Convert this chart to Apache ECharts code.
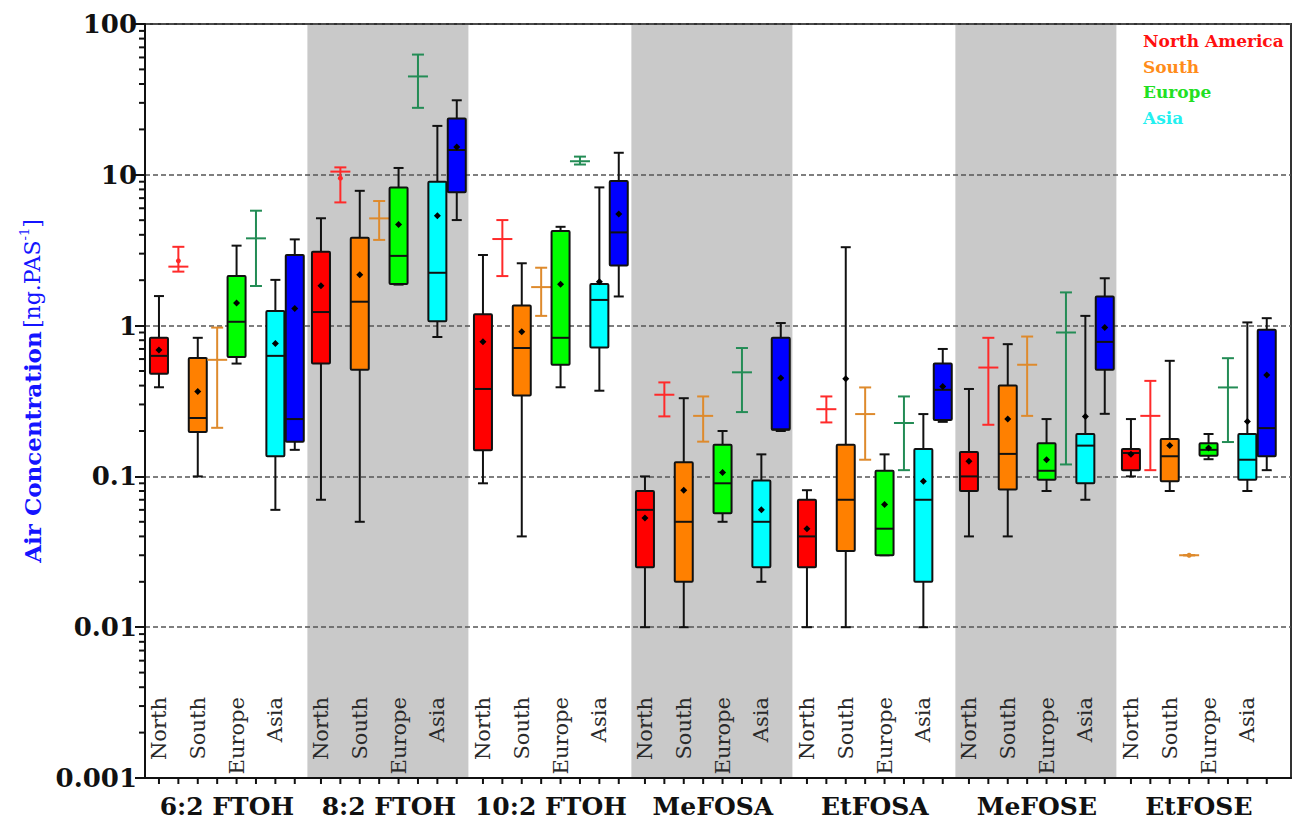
<!DOCTYPE html>
<html><head><meta charset="utf-8">
<script src="https://cdn.jsdelivr.net/npm/echarts@6/dist/echarts.min.js"></script>
<style>html,body{margin:0;padding:0;background:#fff}#c{width:1293px;height:824px}</style>
</head><body><div id="c"></div>
<script>
// ---------------- DATA ----------------
const categories = ['6:2 FTOH', '8:2 FTOH', '10:2 FTOH', 'MeFOSA', 'EtFOSA', 'MeFOSE', 'EtFOSE'];
const regionLabels = ['North', 'South', 'Europe', 'Asia'];
const legendNames = ['North America', 'South', 'Europe', 'Asia'];
const yTickLabels = ['0.001', '0.01', '0.1', '1', '10', '100'];
const shadedGroups = [1, 3, 5];

// box values per compound: [whiskerLow, q1, median, q3, whiskerHigh, mean]
const northBox = [
  [0.39, 0.48, 0.63, 0.83, 1.57, 0.69],
  [0.07, 0.56, 1.23, 3.09, 5.15, 1.84],
  [0.09, 0.149, 0.38, 1.19, 2.94, 0.78],
  [0.01, 0.025, 0.06, 0.08, 0.1, 0.053],
  [0.01, 0.025, 0.04, 0.07, 0.081, 0.045],
  [0.04, 0.08, 0.1, 0.145, 0.38, 0.126],
  [0.1, 0.11, 0.143, 0.152, 0.24, 0.14]
];
const southBox = [
  [0.1, 0.197, 0.244, 0.61, 0.83, 0.366],
  [0.05, 0.51, 1.44, 3.83, 7.83, 2.17],
  [0.04, 0.344, 0.71, 1.36, 2.59, 0.91],
  [0.01, 0.02, 0.05, 0.124, 0.33, 0.081],
  [0.01, 0.032, 0.07, 0.162, 3.31, 0.444],
  [0.04, 0.082, 0.141, 0.40, 0.753, 0.24],
  [0.08, 0.093, 0.136, 0.177, 0.584, 0.16]
];
const europeBox = [
  [0.56, 0.62, 1.06, 2.13, 3.39, 1.41],
  [1.87, 1.89, 2.9, 8.25, 11.1, 4.69],
  [0.39, 0.55, 0.83, 4.24, 4.52, 1.88],
  [0.05, 0.057, 0.09, 0.162, 0.2, 0.106],
  [0.03, 0.03, 0.045, 0.109, 0.14, 0.065],
  [0.08, 0.095, 0.109, 0.166, 0.24, 0.129],
  [0.13, 0.137, 0.15, 0.166, 0.191, 0.154]
];
const asiaBox = [
  [0.06, 0.136, 0.63, 1.25, 2.01, 0.76],
  [0.84, 1.07, 2.24, 8.99, 21.1, 5.35],
  [0.37, 0.715, 1.48, 1.89, 8.25, 1.95],
  [0.02, 0.025, 0.05, 0.094, 0.14, 0.06],
  [0.01, 0.02, 0.07, 0.152, 0.259, 0.093],
  [0.07, 0.09, 0.16, 0.191, 1.16, 0.25],
  [0.08, 0.095, 0.129, 0.191, 1.05, 0.231]
];
const blueBox = [
  [0.15, 0.17, 0.24, 2.94, 3.73, 1.30],
  [5.01, 7.65, 14.6, 23.6, 31.2, 15.3],
  [1.56, 2.5, 4.15, 9.08, 14, 5.5],
  [0.2, 0.204, 0.205, 0.83, 1.04, 0.45],
  [0.23, 0.237, 0.375, 0.56, 0.70, 0.394],
  [0.26, 0.51, 0.78, 1.56, 2.06, 0.97],
  [0.11, 0.136, 0.209, 0.94, 1.12, 0.47]
];
// range markers: [low, mid, high, dot (or null)]
const northRange = [
  [2.28, 2.46, 3.33, 2.69],
  [6.56, 10.5, 11.2, 9.5],
  [2.13, 3.75, 5.01, null],
  [0.25, 0.348, 0.42, null],
  [0.228, 0.279, 0.339, null],
  [0.22, 0.527, 0.83, null],
  [0.11, 0.252, 0.43, null]
];
const southRange = [
  [0.21, 0.593, 0.97, null],
  [3.7, 5.14, 6.7, null],
  [1.16, 1.8, 2.42, null],
  [0.17, 0.252, 0.339, null],
  [0.129, 0.259, 0.389, null],
  [0.252, 0.55, 0.846, null],
  [0.03, 0.03, 0.03, 0.03]
];
const europeRange = [
  [1.83, 3.79, 5.78, null],
  [27.8, 44.9, 62.7, null],
  [11.7, 12.3, 13.2, null],
  [0.267, 0.49, 0.71, null],
  [0.11, 0.226, 0.339, null],
  [0.12, 0.9, 1.66, null],
  [0.169, 0.389, 0.608, null]
];

// ---------------- LAYOUT ----------------
const PERIOD = 8.35;           // slot units per compound group
const XMIN = -0.72, XMAX = 58.35;
const YMIN = 0.001, YMAX = 100;
const FONT = 'DejaVu Serif';
const slotX = (g, s) => g * PERIOD + s;

const toBoxData = (arr, slot) => arr.map((d, g) => [slotX(g, slot)].concat(d));
const toRangeData = (arr, slot) => arr.map((d, g) => [slotX(g, slot), d[0], d[1], d[2], d[3] == null ? d[1] : d[3], d[3] == null ? 0 : 1]);

function boxRenderer(fill) {
  return function (params, api) {
    const x = api.value(0);
    const c = v => api.coord([x, v]);
    const low = c(api.value(1)), q1 = c(api.value(2)), med = c(api.value(3)),
          q3 = c(api.value(4)), high = c(api.value(5)), mean = c(api.value(6));
    const cx = low[0], hw = 9, cw = 5, ms = 3.5;
    const ls = { stroke: '#111', lineWidth: 2 };
    return {
      type: 'group',
      children: [
        { type: 'line', shape: { x1: cx, y1: high[1], x2: cx, y2: q3[1] }, style: ls },
        { type: 'line', shape: { x1: cx, y1: q1[1], x2: cx, y2: low[1] }, style: ls },
        { type: 'line', shape: { x1: cx - cw, y1: high[1], x2: cx + cw, y2: high[1] }, style: ls },
        { type: 'line', shape: { x1: cx - cw, y1: low[1], x2: cx + cw, y2: low[1] }, style: ls },
        { type: 'rect', shape: { x: cx - hw, y: q3[1], width: 2 * hw, height: q1[1] - q3[1], r: 1 }, style: { fill: fill, stroke: '#111', lineWidth: 2 } },
        { type: 'line', shape: { x1: cx - hw, y1: med[1], x2: cx + hw, y2: med[1] }, style: ls },
        { type: 'polygon', shape: { points: [[cx, mean[1] - ms], [cx + ms, mean[1]], [cx, mean[1] + ms], [cx - ms, mean[1]]] }, style: { fill: '#000' } }
      ]
    };
  };
}

function rangeRenderer(color) {
  return function (params, api) {
    const x = api.value(0);
    const c = v => api.coord([x, v]);
    const low = c(api.value(1)), mid = c(api.value(2)), high = c(api.value(3)), dot = c(api.value(4));
    const showDot = api.value(5) === 1;
    const cx = low[0], capw = 6, crossw = 10;
    const ls = { stroke: color, lineWidth: 2 };
    const ch = [
      { type: 'line', shape: { x1: cx, y1: high[1], x2: cx, y2: low[1] }, style: ls },
      { type: 'line', shape: { x1: cx - capw, y1: high[1], x2: cx + capw, y2: high[1] }, style: ls },
      { type: 'line', shape: { x1: cx - capw, y1: low[1], x2: cx + capw, y2: low[1] }, style: ls },
      { type: 'line', shape: { x1: cx - crossw, y1: mid[1], x2: cx + crossw, y2: mid[1] }, style: ls }
    ];
    if (showDot) ch.push({ type: 'circle', shape: { cx: cx, cy: dot[1], r: 2.5 }, style: { fill: color } });
    return { type: 'group', children: ch };
  };
}

const tickData = [];
categories.forEach((_, g) => { for (let s = 0; s < 8; s++) tickData.push([slotX(g, s), YMIN]); });
const minorData = [];
for (let e = -3; e < 2; e++) for (let m = 2; m <= 9; m++) minorData.push([XMIN, m * Math.pow(10, e)]);
const groupLabelData = categories.map((_, g) => [slotX(g, 3.5), YMIN]);
const regionLabelData = [];
categories.forEach((_, g) => regionLabels.forEach((_, r) => regionLabelData.push([slotX(g, 2 * r), YMIN, r])));

const legendColors = ['#ff1010', '#ff8c1a', '#22e022', '#22f0f0'];

const option = {
  animation: false,
  backgroundColor: '#fff',
  grid: { left: 145, right: 2, top: 24, bottom: 46, show: true, borderColor: '#333', borderWidth: 2, backgroundColor: 'transparent' },
  xAxis: {
    type: 'value', min: XMIN, max: XMAX,
    axisLine: { show: true, onZero: false, lineStyle: { color: '#111', width: 2 } },
    axisTick: { show: false }, axisLabel: { show: false }, splitLine: { show: false }
  },
  yAxis: {
    type: 'log', logBase: 10, min: YMIN, max: YMAX, splitNumber: 5,
    axisLine: { show: true, onZero: false, lineStyle: { color: '#111', width: 2 } },
    axisTick: { show: true, length: 10, lineStyle: { color: '#111', width: 2 } },
    axisLabel: {
      margin: 8, fontFamily: FONT, fontWeight: 'bold', fontSize: 26, color: '#111',
      formatter: v => yTickLabels[Math.round(Math.log10(v)) + 3]
    },
    splitLine: { show: true, lineStyle: { color: '#555', width: 1.5, type: [5, 3] } }
  },
  graphic: [
    {
      type: 'text', x: 32, y: 391, rotation: Math.PI / 2,
      style: {
        text: '{b|Air Concentration} {n|[ng.PAS}{s|-1}{n|]}',
        align: 'center', verticalAlign: 'middle', fill: '#1414ff',
        rich: {
          b: { fontFamily: FONT, fontWeight: 'bold', fontSize: 23, fill: '#1414ff', lineHeight: 28 },
          n: { fontFamily: FONT, fontSize: 22, fill: '#1414ff', lineHeight: 28 },
          s: { fontFamily: FONT, fontSize: 13, fill: '#1414ff', verticalAlign: 'top', lineHeight: 28 }
        }
      }
    }
  ].concat(legendNames.map((n, i) => ({
    type: 'text', x: 1143, y: 41 + i * 25.5,
    style: { text: n, fill: legendColors[i], fontFamily: FONT, fontWeight: 'bold', fontSize: 17, verticalAlign: 'middle', align: 'left' }
  }))),
  series: [
    {
      type: 'custom', name: 'bands', z: -1, silent: true,
      data: shadedGroups.map(g => [g]),
      encode: { x: 0 },
      renderItem: (params, api) => {
        const g = api.value(0);
        const p0 = api.coord([g * PERIOD - 0.7, YMAX]);
        const p1 = api.coord([g * PERIOD + 7.6, YMIN]);
        return { type: 'rect', shape: { x: p0[0], y: p0[1], width: p1[0] - p0[0], height: p1[1] - p0[1] }, style: { fill: '#c9c9c9' } };
      }
    },
    { type: 'custom', name: 'North America', data: toBoxData(northBox, 0), encode: { x: 0, y: [1, 5] }, renderItem: boxRenderer('#ff0000') },
    { type: 'custom', name: 'North America range', data: toRangeData(northRange, 1), encode: { x: 0, y: [1, 3] }, renderItem: rangeRenderer('#ff2a2a') },
    { type: 'custom', name: 'South', data: toBoxData(southBox, 2), encode: { x: 0, y: [1, 5] }, renderItem: boxRenderer('#ff8000') },
    { type: 'custom', name: 'South range', data: toRangeData(southRange, 3), encode: { x: 0, y: [1, 3] }, renderItem: rangeRenderer('#de8a2c') },
    { type: 'custom', name: 'Europe', data: toBoxData(europeBox, 4), encode: { x: 0, y: [1, 5] }, renderItem: boxRenderer('#00ff00') },
    { type: 'custom', name: 'Europe range', data: toRangeData(europeRange, 5), encode: { x: 0, y: [1, 3] }, renderItem: rangeRenderer('#238c55') },
    { type: 'custom', name: 'Asia', data: toBoxData(asiaBox, 6), encode: { x: 0, y: [1, 5] }, renderItem: boxRenderer('#00ffff') },
    { type: 'custom', name: 'Asia (blue)', data: toBoxData(blueBox, 7), encode: { x: 0, y: [1, 5] }, renderItem: boxRenderer('#0000ff') },
    {
      type: 'custom', name: 'xticks', silent: true, clip: false, data: tickData, encode: { x: 0, y: 1 },
      renderItem: (params, api) => {
        const p = api.coord([api.value(0), api.value(1)]);
        return { type: 'line', shape: { x1: p[0], y1: p[1], x2: p[0], y2: p[1] + 6 }, style: { stroke: '#111', lineWidth: 2 } };
      }
    },
    {
      type: 'custom', name: 'yminor', silent: true, clip: false, data: minorData, encode: { x: 0, y: 1 },
      renderItem: (params, api) => {
        const p = api.coord([api.value(0), api.value(1)]);
        return { type: 'line', shape: { x1: p[0] - 6, y1: p[1], x2: p[0], y2: p[1] }, style: { stroke: '#111', lineWidth: 2 } };
      }
    },
    {
      type: 'custom', name: 'groupLabels', silent: true, clip: false, data: groupLabelData, encode: { x: 0, y: 1 },
      renderItem: (params, api) => {
        const p = api.coord([api.value(0), api.value(1)]);
        return { type: 'text', x: p[0], y: p[1] + 28, style: { text: categories[params.dataIndex], fontFamily: FONT, fontWeight: 'bold', fontSize: 25, fill: '#111', align: 'center', verticalAlign: 'middle' } };
      }
    },
    {
      type: 'custom', name: 'regionLabels', silent: true, clip: false, data: regionLabelData, encode: { x: 0, y: 1 },
      renderItem: (params, api) => {
        const p = api.coord([api.value(0), api.value(1)]);
        return { type: 'text', x: p[0], y: p[1] - 81, rotation: Math.PI / 2, style: { text: regionLabels[api.value(2)], fontFamily: FONT, fontSize: 21, fill: '#2a2a2a', align: 'right', verticalAlign: 'middle' } };
      }
    }
  ]
};
const chart = echarts.init(document.getElementById('c'), null, { renderer: 'svg' });
chart.setOption(option);
</script>
</body></html>
